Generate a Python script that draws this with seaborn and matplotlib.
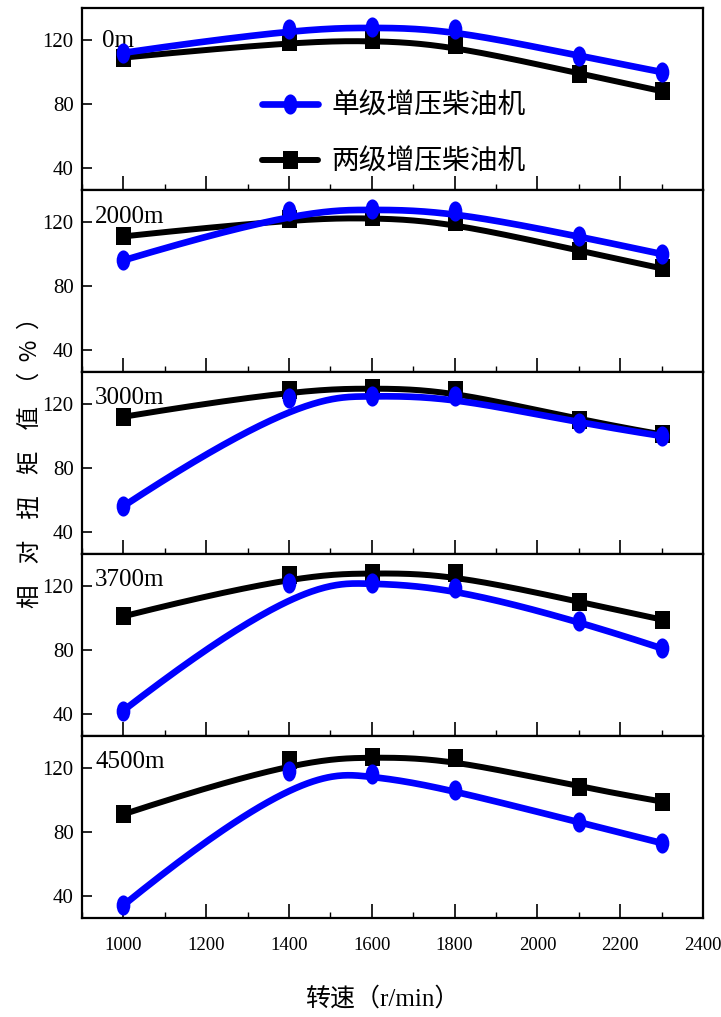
import numpy as np
import matplotlib
matplotlib.use("Agg")
import matplotlib.pyplot as plt
import seaborn as sns
from matplotlib.path import Path
from matplotlib.lines import Line2D
from matplotlib.ticker import MultipleLocator

# ---- data -------------------------------------------------------------
speed = [1000, 1400, 1600, 1800, 2100, 2300]          # r/min
altitudes = ["0m", "2000m", "3000m", "3700m", "4500m"]

single_0    = [112, 127, 128, 127, 110, 100]
two_0       = [109, 119, 120, 117,  99,  88]
single_2000 = [ 96, 127, 128, 127, 111, 100]
two_2000    = [111, 122, 123, 120, 102,  91]
single_3000 = [ 56, 124, 125, 125, 108, 100]
two_3000    = [112, 129, 130, 129, 110, 101]
single_3700 = [ 42, 122, 122, 119,  98,  81]
two_3700    = [101, 127, 128, 128, 110,  99]
single_4500 = [ 34, 118, 116, 106,  86,  73]
two_4500    = [ 91, 125, 127, 126, 108,  99]

single_series = [single_0, single_2000, single_3000, single_3700, single_4500]
two_series = [two_0, two_2000, two_3000, two_3700, two_4500]

label_single = "单级增压柴油机"
label_two = "两级增压柴油机"
y_ticks = [40, 80, 120]
x_ticks = [1000, 1200, 1400, 1600, 1800, 2000, 2200, 2400]


def bspline(xc, yc, num=300, k=3):
    """Clamped uniform cubic B-spline using the points as control points."""
    xc = np.asarray(xc, float)
    yc = np.asarray(yc, float)
    n = len(xc)
    t = np.concatenate([np.zeros(k), np.linspace(0, 1, n - k + 1), np.ones(k)])
    u = np.linspace(0, 1, num)
    B = np.zeros((num, len(t) - 1))
    for i in range(len(t) - 1):
        B[:, i] = ((t[i] <= u) & (u < t[i + 1])).astype(float)
    B[-1, n - 1] = 1.0
    for d in range(1, k + 1):
        Bn = np.zeros((num, len(t) - 1 - d))
        for i in range(len(t) - 1 - d):
            term = np.zeros(num)
            den1 = t[i + d] - t[i]
            den2 = t[i + d + 1] - t[i + 1]
            if den1 > 0:
                term += (u - t[i]) / den1 * B[:, i]
            if den2 > 0:
                term += (t[i + d + 1] - u) / den2 * B[:, i + 1]
            Bn[:, i] = term
        B = Bn
    return B @ xc, B @ yc


# ---- style ------------------------------------------------------------
sns.set_style("ticks")
plt.rcParams["font.family"] = ["Liberation Serif", "Noto Sans CJK SC"]
plt.rcParams.update({
    "axes.linewidth": 1.6,
    "axes.edgecolor": "black",
    "xtick.color": "black",
    "ytick.color": "black",
    "text.color": "black",
    "axes.labelcolor": "black",
})

BLUE = "#0000FF"
BLACK = "#000000"

ellipse = Path(Path.unit_circle().vertices * np.array([0.68, 1.0]),
               Path.unit_circle().codes)
rect = Path([(-0.4, -0.5), (0.4, -0.5), (0.4, 0.5), (-0.4, 0.5), (-0.4, -0.5)],
            [Path.MOVETO, Path.LINETO, Path.LINETO, Path.LINETO, Path.CLOSEPOLY])

fig = plt.figure(figsize=(7.21, 10.17), dpi=100)
axes = fig.subplots(5, 1, sharex=True, gridspec_kw=dict(hspace=0))
fig.subplots_adjust(left=0.1137, right=0.975, top=0.992, bottom=0.0973)

for i, ax in enumerate(axes):
    for vals, color, lw, mk, ms, z in [
        (two_series[i], BLACK, 4.3, rect, 13.5, 2),
        (single_series[i], BLUE, 4.8, ellipse, 14.5, 3),
    ]:
        cx, cy = bspline(speed, vals)
        sns.lineplot(x=cx, y=cy, ax=ax, color=color, lw=lw, sort=False,
                     estimator=None, zorder=z)
        sns.scatterplot(x=speed, y=vals, ax=ax, color=color, marker=mk,
                        s=ms ** 2, linewidth=0, zorder=z + 0.5)

    ax.set_xlim(900, 2400)
    ax.set_ylim(26, 140)
    ax.set_yticks(y_ticks)
    ax.xaxis.set_major_locator(MultipleLocator(200))
    ax.xaxis.set_minor_locator(MultipleLocator(100))
    ax.tick_params(axis="both", which="major", direction="in", length=7,
                   width=1.2, labelsize=15, pad=6)
    ax.tick_params(axis="x", which="minor", direction="in", length=4, width=1.0)
    ax.tick_params(axis="x", which="major", length=10)
    ax.set_xlabel("")
    ax.set_ylabel("")
    for sp in ax.spines.values():
        sp.set_visible(True)
        sp.set_linewidth(1.6)
        sp.set_color("black")
    ax.text(0.032 if i == 0 else 0.021, 0.82 if i == 0 else 0.855,
            altitudes[i], transform=ax.transAxes, fontsize=18,
            ha="left", va="center", family="Liberation Serif")

axes[-1].set_xticks(x_ticks)
axes[-1].tick_params(axis="x", labelsize=13.5, pad=14)

handles = [
    Line2D([], [], color=BLUE, lw=4.8, marker=ellipse, markersize=14.5,
           markeredgewidth=0),
    Line2D([], [], color=BLACK, lw=4.3, marker=rect, markersize=13.5,
           markeredgewidth=0),
]
axes[0].legend(handles, [label_single, label_two], loc="center left",
               bbox_to_anchor=(0.29, 0.31), frameon=False, borderpad=0,
               borderaxespad=0, handlelength=2.0, handletextpad=0.5,
               labelspacing=0.95,
               prop={"family": ["Noto Sans CJK SC"], "size": 20})

fig.text(0.042, 0.551, "相    对    扭    矩    值  （  %  ）", rotation=90,
         ha="center", va="center", fontsize=17,
         family=["Noto Sans CJK SC", "DejaVu Sans"])
fig.text(0.53, 0.0177, "转速（r/min）", ha="center", va="center",
         fontsize=18, family=["Liberation Serif", "Noto Sans CJK SC"])

fig.savefig("out.png", dpi=100)
